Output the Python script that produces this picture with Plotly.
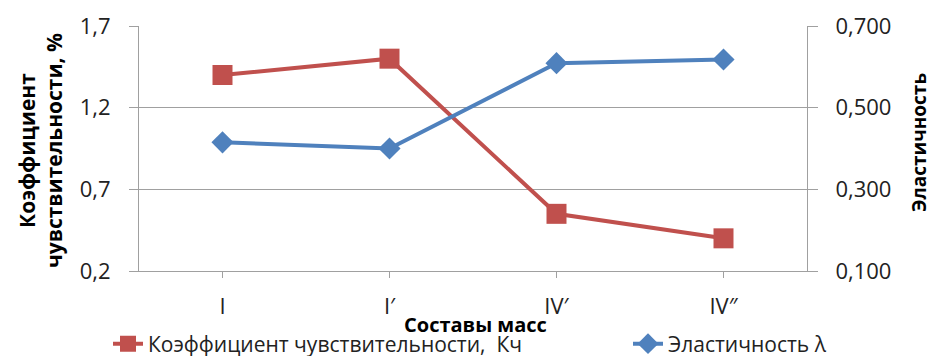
import plotly.graph_objects as go

categories = ["I", "I′", "IV′", "IV″"]
sensitivity = [1.40, 1.50, 0.55, 0.40]
elasticity = [0.415, 0.400, 0.609, 0.618]

left_ticks = [0.2, 0.7, 1.2, 1.7]
right_ticks = [0.1, 0.3, 0.5, 0.7]

RED = "#C0504D"
BLUE = "#4F81BD"
GRID = "#A0A0A0"
FONT = "Open Sans"

W, H = 931, 356
L, R, T, B = 139, 124, 26, 85
PW, PH = W - L - R, H - T - B


def px(xp):
    return (xp - L) / PW


def py(yp):
    return (H - B - yp) / PH


fig = go.Figure()
fig.add_trace(go.Scatter(
    x=categories, y=sensitivity, mode="lines+markers",
    name="Коэффициент чувствительности,  Кч",
    line=dict(color=RED, width=4),
    marker=dict(symbol="square", size=20, color=RED),
    legend="legend",
))
fig.add_trace(go.Scatter(
    x=categories, y=elasticity, mode="lines+markers",
    name="Эластичность λ", yaxis="y2",
    line=dict(color=BLUE, width=4),
    marker=dict(symbol="diamond", size=17, color=BLUE),
    legend="legend2",
))

tickfont = dict(family=FONT, size=22, color="#222222")

fig.update_layout(
    width=W, height=H,
    margin=dict(l=L, r=R, t=T, b=B, pad=0, autoexpand=False),
    paper_bgcolor="white", plot_bgcolor="white",
    separators=", ",
    font=dict(family=FONT, color="#222222"),
    xaxis=dict(
        type="category", range=[-0.5, 3.5],
        showline=True, linecolor=GRID, linewidth=1,
        ticks="outside", ticklen=6, tickcolor=GRID,
        tickfont=tickfont, showgrid=False, zeroline=False,
        automargin=False, ticklabelstandoff=10,
    ),
    yaxis=dict(
        range=[0.2, 1.7], tickvals=left_ticks, tickformat=".1f",
        showline=True, linecolor=GRID, linewidth=1,
        ticks="outside", ticklen=9, tickcolor=GRID,
        showgrid=True, gridcolor=GRID, gridwidth=1,
        zeroline=False, tickfont=tickfont, ticklabelstandoff=14,
        automargin=False,
    ),
    yaxis2=dict(
        range=[0.1, 0.7], tickvals=right_ticks, tickformat=".3f",
        overlaying="y", side="right",
        showline=True, linecolor=GRID, linewidth=1,
        ticks="outside", ticklen=10, tickcolor=GRID,
        showgrid=False, zeroline=False, tickfont=tickfont,
        ticklabelstandoff=13, automargin=False,
    ),
    legend=dict(
        orientation="h", x=px(108), y=py(344),
        xanchor="left", yanchor="middle",
        font=dict(family=FONT, size=21, color="#222222"),
        bgcolor="rgba(0,0,0,0)",
    ),
    legend2=dict(
        orientation="h", x=px(628), y=py(344),
        xanchor="left", yanchor="middle",
        font=dict(family=FONT, size=21, color="#222222"),
        bgcolor="rgba(0,0,0,0)",
    ),
    showlegend=True,
    annotations=[
        dict(text="<b>Коэффициент<br>чувствительности, %</b>",
             x=px(40), y=py(151), xref="paper", yref="paper",
             xanchor="center", yanchor="middle", textangle=-90,
             showarrow=False,
             font=dict(family=FONT, size=21, color="black")),
        dict(text="<b>Эластичность</b>",
             x=px(919), y=py(143), xref="paper", yref="paper",
             xanchor="center", yanchor="middle", textangle=-90,
             showarrow=False,
             font=dict(family=FONT, size=19, color="black")),
        dict(text="<b>Составы масс</b>",
             x=px(476), y=py(324), xref="paper", yref="paper",
             xanchor="center", yanchor="middle",
             showarrow=False,
             font=dict(family=FONT, size=20, color="black")),
    ],
)

fig.write_html("out.html")
